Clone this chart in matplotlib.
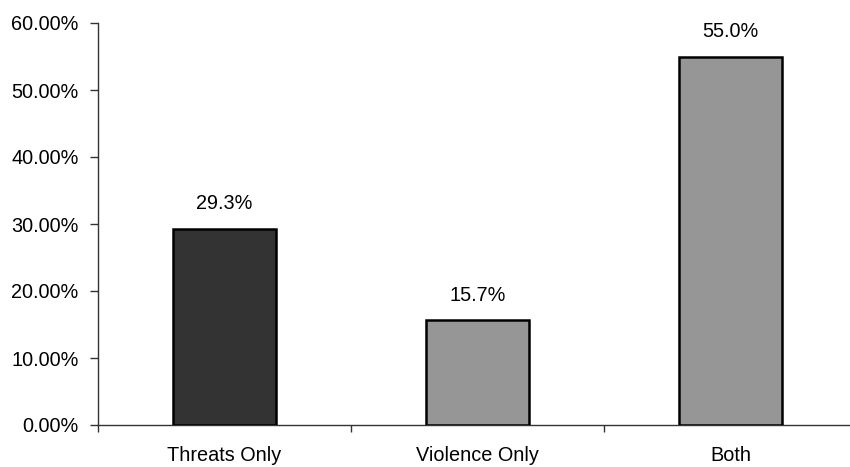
import numpy as np
import matplotlib.pyplot as plt
from matplotlib.ticker import FuncFormatter

# data
categories = ['Threats Only', 'Violence Only', 'Both']
values = [29.3, 15.7, 55.0]
bar_colors = ['#333333', '#969696', '#969696']

plt.rcParams['font.family'] = ['Liberation Sans', 'DejaVu Sans']

fig = plt.figure(figsize=(8.5, 4.67), dpi=100)
ax = fig.add_axes([98 / 850, 1 - 425 / 467, 759 / 850, 402 / 467])

x = np.arange(len(categories))
bars = ax.bar(x, values, width=0.41, color=bar_colors,
              edgecolor='black', linewidth=1.8, zorder=3)

for b, v in zip(bars, values):
    ax.annotate('%.1f%%' % v, (b.get_x() + b.get_width() / 2, v),
                xytext=(0, 11), textcoords='offset points',
                ha='center', va='bottom', fontsize=14.3)

ax.set_xlim(-0.5, 2.5)
ax.set_ylim(0, 60)
ax.set_yticks(np.arange(0, 61, 10))
ax.yaxis.set_major_formatter(FuncFormatter(lambda v, p: '%.2f%%' % v))

# category labels centred, ticks at the boundaries
ax.set_xticks(x)
ax.set_xticklabels(categories)
ax.tick_params(axis='x', which='major', length=0, pad=15, labelsize=14.3)
ax.set_xticks(np.arange(-0.5, 3, 1), minor=True)
ax.tick_params(axis='x', which='minor', length=5, width=1, color='#333333',
               direction='out')
ax.tick_params(axis='y', length=6, width=1, color='#333333', pad=8,
               labelsize=14.3)

for s in ['top', 'right']:
    ax.spines[s].set_visible(False)
for s in ['left', 'bottom']:
    ax.spines[s].set_color('#333333')
    ax.spines[s].set_linewidth(1)

fig.savefig('out.png', dpi=100)
